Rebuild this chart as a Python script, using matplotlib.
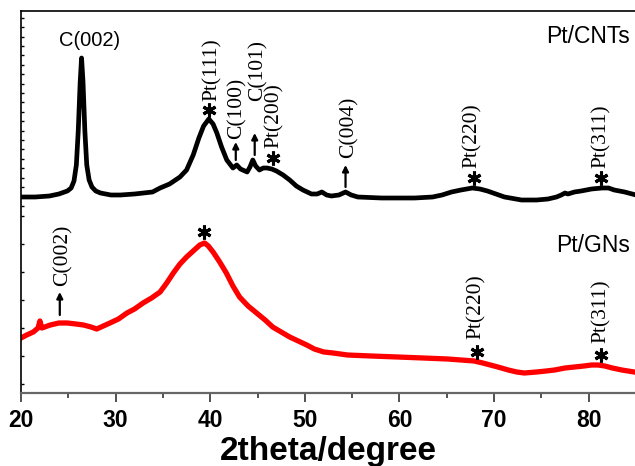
import matplotlib
matplotlib.use("Agg")
import matplotlib.pyplot as plt
import numpy as np

# 2theta positions (degree) and intensities (a.u.) for Pt/CNTs
cnt_two_theta = [20.0, 21.5, 23.0, 24.0, 24.9, 25.3, 25.6, 25.85, 26.05, 26.25, 26.4,
                 26.55, 26.75, 26.95, 27.2, 27.5, 27.9, 28.4, 29.5, 30.5, 32.0, 33.9,
                 34.7, 35.7, 36.8, 37.5, 38.2, 38.8, 39.3, 39.85, 40.3, 40.7, 41.2,
                 41.75, 42.4, 42.8, 43.2, 43.9, 44.2, 44.5, 44.8, 45.2, 45.6, 46.0, 46.5,
                 47.0, 47.7, 48.4, 49.1, 49.8, 50.7, 51.3, 51.8, 52.3, 52.8, 53.6, 54.3,
                 54.9, 55.6, 58.1, 61.6, 63.5, 64.5, 65.5, 66.5, 67.7, 68.5, 69.3, 70.2,
                 71.1, 72.9, 74.5, 75.7, 76.6, 77.1, 77.5, 77.8, 78.5, 79.2, 80.3, 81.4,
                 82.1, 82.7, 83.8, 85.0]
cnt_intensity = [196, 196, 197, 199, 202, 205, 212, 228, 262, 310, 335,
                 312, 262, 228, 213, 206, 202, 200, 198, 198, 199, 201,
                 205, 209, 216, 223, 238, 255, 267, 274, 269, 260, 246,
                 233, 225, 228, 224, 221, 226, 233, 227, 223, 225, 225, 224,
                 222, 218, 213, 207, 203, 199, 199, 201, 198, 197, 198, 201,
                 198, 196, 195, 195, 196, 198, 201, 203, 205, 204, 202, 199,
                 196, 193, 193, 194, 196, 198, 200, 199, 201, 202, 204, 205,
                 205, 203, 201, 198]

# 2theta positions (degree) and intensities (a.u.) for Pt/GNs
gn_two_theta = [20.0, 20.6, 21.3, 21.8, 22.0, 22.2, 23.1, 24.0, 24.9, 25.8, 26.6, 27.4,
                28.0, 28.7, 29.4, 30.3, 31.2, 32.0, 32.9, 33.8, 34.7, 35.4, 36.1, 36.8,
                37.5, 38.2, 38.9, 39.4, 39.8, 40.3, 41.0, 41.7, 42.4, 43.1, 44.0, 44.9,
                45.8, 46.6, 47.5, 48.4, 49.3, 50.2, 51.0, 52.0, 53.0, 54.5, 57.0, 59.8,
                62.5, 65.1, 66.5, 67.9, 68.8, 69.6, 70.4, 71.5, 72.4, 73.2, 74.5, 75.5,
                76.4, 77.5, 78.5, 79.5, 80.3, 81.0, 81.7, 82.5, 83.5, 84.8]
gn_intensity = [55, 58, 61, 65, 72, 65, 68, 70, 70, 69, 68, 66,
                64, 67, 70, 74, 80, 84, 90, 95, 101, 110, 120, 129,
                136, 142, 148, 150, 147, 141, 131, 120, 107, 96, 87, 80,
                73, 66, 61, 56, 52, 48, 44, 41, 40, 38, 37, 36,
                35, 34, 33, 32, 30, 28, 26, 23, 21, 20, 21, 22,
                23, 25, 26, 27, 28, 28, 27, 25, 23, 21]

x_ticks = [20, 30, 40, 50, 60, 70, 80]

# Rotated reflection labels: (text, label x, label bottom y)
cnt_peak_labels = [("Pt(111)", 40.2, 292), ("C(100)", 42.8, 254), ("C(101)", 45.0, 292),
                   ("Pt(200)", 46.8, 245), ("C(004)", 54.7, 235), ("Pt(220)", 67.7, 225),
                   ("Pt(311)", 81.35, 225)]
gn_peak_labels = [("C(002)", 24.4, 107), ("Pt(220)", 68.15, 54), ("Pt(311)", 81.35, 50)]

# Pt reflections marked with an asterisk: (x, y)
star_x = [39.85, 46.6, 67.9, 81.35, 39.3, 68.15, 81.25]
star_y = [283, 235, 215, 215, 161, 41, 38]

# Carbon reflections marked with an arrow: (x, y_start, y_tip)
arrow_marks = [(42.7, 233, 251), (44.7, 238, 260), (54.3, 206, 228), (24.1, 78, 101)]

fig = plt.figure(figsize=(6.35, 4.66), dpi=100)
ax = fig.add_axes([21 / 635, 73 / 466, 615 / 635, 382 / 466])

ax.plot(cnt_two_theta, cnt_intensity, color="black", lw=3.4, solid_joinstyle="round")
ax.plot(gn_two_theta, gn_intensity, color="#ff0000", lw=3.8, solid_joinstyle="round")

ax.set_xlim(20, 85)
ax.set_ylim(0, 382)

serif = ["Liberation Serif", "DejaVu Serif"]
sans = ["Liberation Sans", "DejaVu Sans"]

for txt, x, y in cnt_peak_labels + gn_peak_labels:
    ax.text(x, y, txt, rotation=90, ha="center", va="bottom", fontsize=15.5,
            family=serif)

# asterisks marking Pt reflections
ax.plot(star_x, star_y, linestyle="none", marker=(6, 2, 0), markersize=10,
        markeredgewidth=2.2, color="black", clip_on=False)

for x, y0, y1 in arrow_marks:
    ax.annotate("", xy=(x, y1), xytext=(x, y0),
                arrowprops=dict(arrowstyle="-|>", color="black", lw=1.6,
                                mutation_scale=9, shrinkA=0, shrinkB=0))

ax.text(27.2, 352, "C(002)", ha="center", va="center", fontsize=14.5, family=sans)
ax.text(84.4, 356, "Pt/CNTs", ha="right", va="center", fontsize=16.5, family=sans)
ax.text(84.4, 147, "Pt/GNs", ha="right", va="center", fontsize=16.5, family=sans)

# Axes styling
ax.spines["right"].set_visible(False)
ax.spines["left"].set_color("black")
ax.spines["top"].set_color("black")
ax.spines["bottom"].set_color("#666666")
for s in ax.spines.values():
    s.set_linewidth(1.2)
ax.spines["bottom"].set_linewidth(1.6)

ax.set_xticks(x_ticks)
ax.set_xticks(np.arange(25, 85, 10), minor=True)
ax.tick_params(axis="x", which="major", direction="out", length=6.5, width=1.2,
               color="#333333", pad=5, labelsize=16.5)
ax.tick_params(axis="x", which="minor", direction="out", length=3.5, width=1.2,
               color="#333333")
for lab in ax.get_xticklabels():
    lab.set_fontweight("bold")
    lab.set_family(sans)

# Left axis tick marks (no labels)
y_ticks_lower = np.arange(9, 178, 28)
y_ticks_upper = np.linspace(187.2, 375.2, 21)
ax.set_yticks(np.concatenate([y_ticks_lower, y_ticks_upper]))
ax.set_yticklabels([])
ax.tick_params(axis="y", which="both", direction="in", length=2.5, width=1.0,
               color="black", left=True, right=False)

ax.set_xlabel("2theta/degree", fontsize=24, fontweight="bold", family=sans,
              labelpad=3)

fig.savefig("out.png", dpi=100)
